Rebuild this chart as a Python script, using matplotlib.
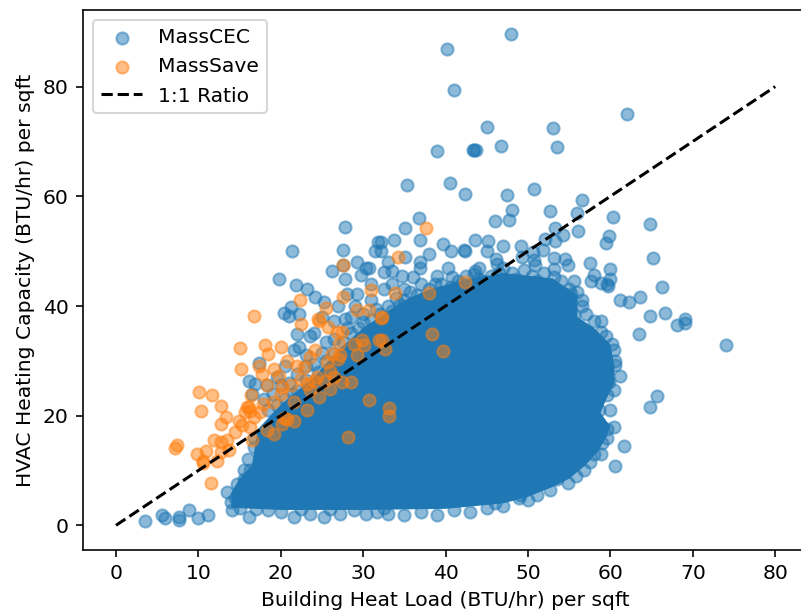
import matplotlib
matplotlib.use('Agg')
import matplotlib.pyplot as plt

# values as (heat load, capacity)
cec_outliers = [(40.2,86.8),(47.9,89.5),(41,79.3),(62,75),(45,72.6),(53,72.4),(53.5,69),(46.7,69.2),(43.5,68.4),(43.7,68.4),(43.3,68.4),
    (39,68.2),(35.3,62.1),(40.5,62.4),(42.4,60.5),(47.4,60.3),(50.7,61.4),(56.6,59.3),(48.1,57.5),(47.7,55.7),(46,55.5),(52.7,57.4),
    (56,56.9),(60.3,56.3),(36.8,56),(35.1,54.2),(64.8,54.9),(65.2,48.8),(66.2,43.5),(74,32.8),(65.7,23.5),(64.8,21.6),(61.6,14.5),(60.5,10.8),
    (69.1,37.7),(69,36.9),(68.1,36.6),(66.6,38.7),(64.8,38.2),(63.5,34.9),(63.6,41.6),(62.2,40.8),(61.2,41.1),
    (3.5,0.8),(5.6,1.8),(6,1.3),(7.6,1.5),(7.6,0.9),(8.8,2.7),(10,1.3),(11.2,1.8)]

cec_upper = [(33.7,52),(36.9,52),(32.1,51.6),(39.7,51.3),(40.6,50.1),(42.2,50.2),(42.3,50.1),(43.6,52),(45.1,51.9),(45,50),(47,51),(49.2,51),
    (49.3,49),(50.6,49.8),(51.8,50.2),(52.1,52.2),(53.3,54.2),(53.3,51.9),(54.2,53),(56.1,53.6),(59.8,52.7),(59.5,51.4),(53.2,48.8),
    (54.5,48.6),(54.9,47.4),(57.5,47.8),(60,46.8),(53.1,46.8),(50.9,47.4),(50.7,48.3),(46.1,48.6),(46.2,47.6),(36.9,48),(36.9,47),(40.3,47),
    (44,47),(43.6,46.4),(58,45.7),(57.7,44.6),(58.8,44.1),(59.6,44),(60,44.9),(59.7,43.7),(55.6,44.6),(38.7,44),(36.1,45.2),(34.7,45.5),(33.5,46.4),
    (32.5,46.2),(40.8,45.2),(41.5,44.6),(40.6,43.4),(35.7,42.5),(34.9,43),(37.4,39.8),(34.5,40.4),(41.8,41),(43.4,45.8),(51.1,44.6),(53.1,45.2),
    (48.5,44.9),(55.2,42.2),(53.5,38.6),(55.6,38.4),(21.4,50),(27.5,50.2),(27.8,54.4),(31.4,50.1),(31.8,51.6),(29.3,48.1),(26.2,46.3),(27.5,47.4),
    (27.8,45),(29.7,45.7),(30.3,47),(30.7,47),(19.8,45),(21.8,43.8),(23.2,43),(24.1,41.7),(25.3,40.7),(21.2,39.8),(20.4,38.7),(21,38.2),(22.2,38.5),
    (22,34.9),(23.6,34.6),(26.4,37.3),(27.8,37.6),(29.3,42.2),(28,42.2),(21.6,31.9),(22.2,32.5),(17.3,29.6),(16.2,26.4),(16.9,25.8),(18.3,25.5),
    (16.5,24),(32.1,50),(35.1,49),(33,48),(38,49.5),(31,44),(32.5,43),(33.5,44),(31,41),(29,40),(27,40),(25,38),(28.5,38),(30,37),(33,40),(36,40.5),
    (38,41),(39.5,41.5),(42,44),(44.5,44.5),(46.5,46),(24,35),(25.5,33.5),(23,31),(20.5,29),(19.5,27),(22,27.5),(24,29.5),
    (18,23),(19,24),(20,25.5),(21,26),(22,24.5),(23,26.5),(24.5,28),(25.5,30),(26.5,31.5),(27.5,33.5),(28.5,35),(29.5,36),(31,37.5),(32,38.5),(33.5,39),
    (35,41),(36.5,42),(38,43),(39.5,44),(41,43),(42.5,45.5),(44,45),(45.5,45.5),(47,47),(48,46),(49.5,46.5),(50.5,45.5),(52,46),(54,44.5),(55,43),
    (56,42.5),(18.5,21),(19.5,22),(20.5,23),(21.5,24),(23,29),(25,31.5),(26.5,34),(28,36),(30,38.5),(31.5,39.5),(34,41.5),(37,44),(39,45.5)]

cec_edge = [(16.1,1.5),(14.1,2.7),(20,2.4),(21.6,1.5),(23.6,2.1),(25.2,1.6),(27.2,2.1),(28.9,2.8),(30.3,2.1),(31.7,2.4),(33,2),(35,1.8),(37,2.5),
    (39,1.9),(41,2.8),(43,2.4),(45,3.2),(47,3.5),(13.5,6.1),(13.9,4.3),(14.7,7.6),(15.5,8.5),(16.3,10),(16.7,14.3),(15,3.2),(17,3),(18.5,2.8),
    (22.5,3),(26,3),(32.5,3.1),(58,37.3),(58.8,37.3),(58.8,35.2),(60.2,33.1),(60.4,31.9),(58.4,31.4),(60.6,29.2),(61.2,27.2),(60.4,24.6),(59.6,23.7),
    (58.6,21.1),(60.4,17.9),(59.6,17.6),(59.6,15.9),(58,17.9),(58.8,13),(58,13),(56.8,10.1),(54.9,7.7),(52.7,6.5),(51.1,5.5),(48.9,4.9),(50,4.6),
    (57.5,34.5),(56.5,41),(55.5,36),(56.6,31),(59.5,28.2),(59.8,26.2),(57.6,19.2),(57,15),(55.5,11.6),(53.5,8.5),
    (16,12),(15.5,10),(16.8,16),(14.5,5),(49,5.5),(46,4),(55.8,9),(57.5,11.5),(59,15),(60,21),(60.5,30),(59.5,34.5),(57,38.5),(56.5,40)]

# the solid middle of the cloud is saturated, no single point can be read there, so its outline is used instead
core_x = [14,20,30,40,47,50,53,55,57,58.5,59.5,60,58.8,59.5,60.5,60.5,60,58,56,56,53,47,43,38,35,30,27,24,20,17.2,16.5,15,14]
core_y = [3.2,2.8,2.8,3,4,5.2,7,8.5,11,13.5,16,18,20.5,23,26,29,33,36,38,42,45,46,45,43,41,36,32,27,22,17.5,11,8.5,6]

save_pts = [(16.8,38.1),(15,32.3),(15.2,28.5),(10.1,24.3),(11.7,23.8),(10.3,20.8),(12.8,21.7),(13.4,19.8),(12.7,18.4),(14.4,17.1),(14.9,19.1),(15.9,21.5),
    (16.1,21.5),(15.7,20.6),(16.3,20.9),(15.3,18.2),(16.3,17.9),(16.7,19.7),(17.9,22.2),(19,22.5),(17.5,20.6),(18.3,17.3),(19.2,16.7),(16.5,15.6),(20.2,18.5),
    (20.8,19.4),(21.6,19.1),(11.9,15.6),(12.7,15.2),(13.5,15.5),(13.7,13.7),(12.7,13.4),(12.3,11.8),(10.9,13.5),(9.8,13),(10.6,11.4),(10.5,11.8),(7.2,14.1),(7.4,14.6),
    (11.5,7.7),(16.4,23.7),(17.3,29.1),(17.7,27.6),(18.1,32.8),(18.5,31.3),(20,32.6),(20.8,30),(19.2,28.5),(19.8,27.3),(18.3,25.5),(20,24),(20.2,25.2),(21.2,25.5),
    (22,29.1),(22.8,28.8),(23.6,30.7),(24.2,32),(22.4,36.7),(22.3,41),(24.5,37.6),(24.6,37.3),(25.5,39.6),(25.7,36.2),(26.8,35.2),(27.4,35.2),(27.1,33.1),(27.5,47.4),
    (27.6,41.6),(29.3,39.3),(30.7,39.3),(30.9,42.9),(32.1,37.8),(31.9,33.8),(29.9,33.8),(30.1,32.8),(28.9,33.1),(29.3,31),(27.2,31),(26.2,31.3),(25.6,29.8),(27,30.4),
    (26,28.2),(24.4,27),(25.4,26.4),(24,26.4),(22.4,26.7),(23.2,25.8),(23.6,24.6),(24.6,23.4),(26.4,27),(27.4,26.1),(28.5,26.1),(26,24.9),(23.2,21),(21.6,22.5),
    (20.4,19.5),(30.7,22.9),(28.2,16.1),(37.6,54.2),(34.2,49),(33.8,42.4),(38,42.4),(42.4,44.3),(32.3,38),(38.4,34.9),(39.7,31.7),(32.3,33.7),(32.7,32.2),(33.1,21.3),(33.1,20)]

line_x = [0, 80]
line_y = [0, 80]

cec_pts = cec_outliers + cec_upper + cec_edge
cec_x, cec_y = zip(*cec_pts)
save_x, save_y = zip(*save_pts)

fig = plt.figure(figsize=(801.2/146, 611.2/146), dpi=146)
ax = fig.add_axes([83/801, 61/611, 725/801, 540/611])

ax.fill(core_x, core_y, color='tab:blue', lw=0)
ax.scatter(cec_x, cec_y, alpha=0.5, label='MassCEC')
ax.scatter(save_x, save_y, alpha=0.5, label='MassSave')
ax.plot(line_x, line_y, 'k--', label='1:1 Ratio')

ax.set_xlim(-4, 84)
ax.set_ylim(-4.5, 94)
ax.set_xticks(range(0, 81, 10))
ax.set_yticks(range(0, 81, 20))
ax.set_xlabel('Building Heat Load (BTU/hr) per sqft')
ax.set_ylabel('HVAC Heating Capacity (BTU/hr) per sqft')
ax.legend(loc='upper left')

fig.savefig('out.png', dpi=146)
